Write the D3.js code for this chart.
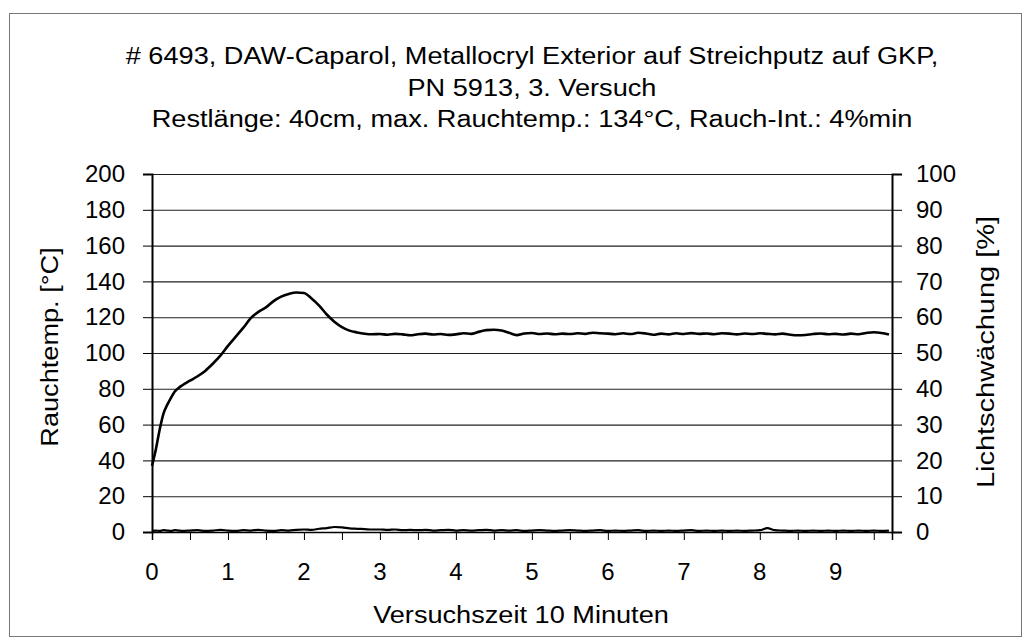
<!DOCTYPE html>
<html>
<head>
<meta charset="utf-8">
<script src="https://cdn.jsdelivr.net/npm/d3@7"></script>
<style>
  body { margin: 0; background: #fff; }
  text { font-family: "Liberation Sans", Arial, sans-serif; fill: #000; }
</style>
</head>
<body>
<svg id="chart"></svg>
<script>
/*
  Rauchtemperatur / Lichtschwaechung
*/

var titleLines = [
  "# 6493, DAW-Caparol, Metallocryl Exterior auf Streichputz auf GKP,",
  "PN 5913, 3. Versuch",
  "Restlänge: 40cm, max. Rauchtemp.: 134°C, Rauch-Int.: 4%min"
];
var xTitle = "Versuchszeit 10 Minuten",
    yLeftTitle = "Rauchtemp. [°C]",
    yRightTitle = "Lichtschwächung [%]";

var xTickLabels = [0, 1, 2, 3, 4, 5, 6, 7, 8, 9];
var yLeftTicks = [0, 20, 40, 60, 80, 100, 120, 140, 160, 180, 200];
var yRightTicks = [0, 10, 20, 30, 40, 50, 60, 70, 80, 90, 100];

// Zeit in Minuten
var zeit = [
  0, 0.05, 0.1, 0.15, 0.2, 0.25, 0.3, 0.35, 0.4, 0.5,
  0.6, 0.7, 0.8, 0.9, 1.0, 1.1, 1.2, 1.3, 1.4, 1.5,
  1.6, 1.7, 1.8, 1.9, 2.0, 2.1, 2.2, 2.3, 2.4, 2.5,
  2.6, 2.7, 2.8, 2.9, 3.0, 3.1, 3.2, 3.3, 3.4, 3.5,
  3.6, 3.7, 3.8, 3.9, 4.0, 4.1, 4.2, 4.3, 4.4, 4.5,
  4.6, 4.7, 4.8, 4.9, 5.0, 5.1, 5.2, 5.3, 5.4, 5.5,
  5.6, 5.7, 5.8, 5.9, 6.0, 6.1, 6.2, 6.3, 6.4, 6.5,
  6.6, 6.7, 6.8, 6.9, 7.0, 7.1, 7.2, 7.3, 7.4, 7.5,
  7.6, 7.7, 7.8, 7.9, 8.0, 8.1, 8.2, 8.3, 8.4, 8.5,
  8.6, 8.7, 8.8, 8.9, 9.0, 9.1, 9.2, 9.3, 9.4, 9.5,
  9.6, 9.7
];

// Rauchtemperatur in °C (linke Achse)
var rauchtemp = [
  37, 46, 57, 66, 71, 75, 78.5, 80.5, 82, 84.5,
  87, 90, 94, 98.5, 104, 109, 114, 119.5, 123, 125.5,
  129, 131.5, 133, 133.8, 133.5, 130.5, 126.5, 121.5, 117.5, 114.5,
  112.5, 111.5, 110.8, 110.5, 110.6, 110.2, 110.7, 110.4, 109.9, 110.5,
  110.8, 110.3, 110.6, 110.1, 110.4, 111.0, 110.7, 111.8, 112.8, 113.0,
  112.6, 111.3, 110.0, 110.9, 111.2, 110.6, 110.9, 110.5, 110.8, 110.6,
  111.0, 110.7, 111.3, 111.0, 110.8, 110.5, 111.0, 110.6, 111.3, 110.9,
  110.2, 110.8, 110.4, 111.0, 110.6, 111.1, 110.7, 110.9, 110.5, 111.0,
  110.8, 110.4, 110.9, 110.6, 111.0, 110.7, 110.4, 110.8, 110.2, 109.9,
  110.1, 110.6, 110.9, 110.5, 110.7, 110.3, 110.8, 110.5, 111.2, 111.6,
  111.2, 110.3
];

// Lichtschwaechung in % (rechte Achse)
var lichtschw = [
  0.3, 0.4, 0.3, 0.5, 0.4, 0.3, 0.5, 0.4, 0.3, 0.4,
  0.5, 0.3, 0.4, 0.6, 0.4, 0.3, 0.5, 0.4, 0.6, 0.4,
  0.3, 0.5, 0.4, 0.6, 0.7, 0.6, 0.9, 1.1, 1.4, 1.3,
  1.0, 0.9, 0.8, 0.7, 0.7, 0.6, 0.7, 0.5, 0.6, 0.5,
  0.6, 0.4, 0.5, 0.6, 0.4, 0.5, 0.4, 0.5, 0.6, 0.4,
  0.5, 0.4, 0.5, 0.3, 0.4, 0.5, 0.4, 0.3, 0.4, 0.5,
  0.4, 0.3, 0.4, 0.5, 0.3, 0.4, 0.3, 0.4, 0.5, 0.3,
  0.4, 0.3, 0.4, 0.3, 0.4, 0.5, 0.3, 0.4, 0.3, 0.4,
  0.3, 0.4, 0.3, 0.4, 0.5, 1.1, 0.5, 0.4, 0.3, 0.4,
  0.3, 0.4, 0.3, 0.4, 0.3, 0.4, 0.3, 0.4, 0.3, 0.4,
  0.3, 0.4
];

var W = 1026, H = 641,
    margin = {top: 174, right: 134, bottom: 109, left: 152},
    width = W - margin.left - margin.right,
    height = H - margin.top - margin.bottom,
    textStretch = 1.18;   // the scanned labels run wider than plain Arial

var svg = d3.select("#chart")
    .attr("width", W)
    .attr("height", H);

// outer frame
svg.append("rect")
    .attr("x", 9.5).attr("y", 13.5)
    .attr("width", 1012).attr("height", 623)
    .attr("fill", "none")
    .attr("stroke", "#777")
    .attr("stroke-width", 1);

var x = d3.scaleLinear().domain([0, 9.74]).range([0, width]),
    yL = d3.scaleLinear().domain([0, 200]).range([height, 0]),
    yR = d3.scaleLinear().domain([0, 100]).range([height, 0]);

var g = svg.append("g")
    .attr("transform", "translate(" + margin.left + "," + margin.top + ")");

// gridlines
g.selectAll(".grid")
    .data(yLeftTicks)
  .enter().append("line")
    .attr("class", "grid")
    .attr("x1", 0).attr("x2", width)
    .attr("y1", function(d) { return yL(d) + 0.5; })
    .attr("y2", function(d) { return yL(d) + 0.5; })
    .attr("stroke", "#222")
    .attr("stroke-width", 1.1);

// left axis
var leftAxis = g.append("g")
    .call(d3.axisLeft(yL).tickValues(yLeftTicks).tickSize(9).tickPadding(18));
leftAxis.select(".domain").attr("stroke-width", 2);
leftAxis.selectAll("text")
    .style("font-size", "24px")
    .attr("fill", "#000");

// right axis
var rightAxis = g.append("g")
    .attr("transform", "translate(" + width + ",0)")
    .call(d3.axisRight(yR).tickValues(yRightTicks).tickSize(10).tickPadding(14));
rightAxis.select(".domain").attr("stroke-width", 2);
rightAxis.selectAll("text")
    .style("font-size", "24px")
    .attr("fill", "#000");

// x axis: minor ticks every half minute, labels at full minutes
var xAxis = g.append("g")
    .attr("transform", "translate(0," + height + ")")
    .call(d3.axisBottom(x).tickValues(d3.range(0, 10, 0.5)).tickSize(8).tickFormat(""));
xAxis.select(".domain").attr("stroke-width", 1.5);

g.append("g").selectAll(".xlabel")
    .data(xTickLabels)
  .enter().append("text")
    .attr("class", "xlabel")
    .attr("x", function(d) { return x(d); })
    .attr("y", height + 48)
    .style("text-anchor", "middle")
    .style("font-size", "24px")
    .text(function(d) { return d; });

// curves
var tempLine = d3.line()
    .x(function(d, i) { return x(zeit[i]); })
    .y(function(d) { return yL(d); })
    .curve(d3.curveMonotoneX);

var lightLine = d3.line()
    .x(function(d, i) { return x(zeit[i]); })
    .y(function(d) { return yR(d); })
    .curve(d3.curveMonotoneX);

g.append("path")
    .datum(lichtschw)
    .attr("fill", "none")
    .attr("stroke", "#000")
    .attr("stroke-width", 2.2)
    .attr("d", lightLine);

g.append("path")
    .datum(rauchtemp)
    .attr("fill", "none")
    .attr("stroke", "#000")
    .attr("stroke-width", 2.6)
    .attr("d", tempLine);

// widen a text element horizontally, like the scan
function stretch(sel, k) {
  sel.each(function() {
    var w = this.getComputedTextLength();
    d3.select(this)
      .attr("textLength", w * (k || textStretch))
      .attr("lengthAdjust", "spacingAndGlyphs");
  });
}

// titles
svg.append("g").selectAll(".title")
    .data(titleLines)
  .enter().append("text")
    .attr("class", "title")
    .attr("x", 532)
    .attr("y", function(d, i) { return 64 + i * 31.5; })
    .style("text-anchor", "middle")
    .style("font-size", "23px")
    .text(function(d) { return d; })
    .call(stretch);

svg.append("text")
    .attr("x", 521)
    .attr("y", 623)
    .style("text-anchor", "middle")
    .style("font-size", "23px")
    .text(xTitle)
    .call(stretch);

svg.append("text")
    .attr("transform", "translate(58,347) rotate(-90)")
    .style("text-anchor", "middle")
    .style("font-size", "23px")
    .text(yLeftTitle)
    .call(stretch);

svg.append("text")
    .attr("transform", "translate(994,352) rotate(-90)")
    .style("text-anchor", "middle")
    .style("font-size", "23px")
    .text(yRightTitle)
    .call(stretch, 1.26);
</script>
</body>
</html>
